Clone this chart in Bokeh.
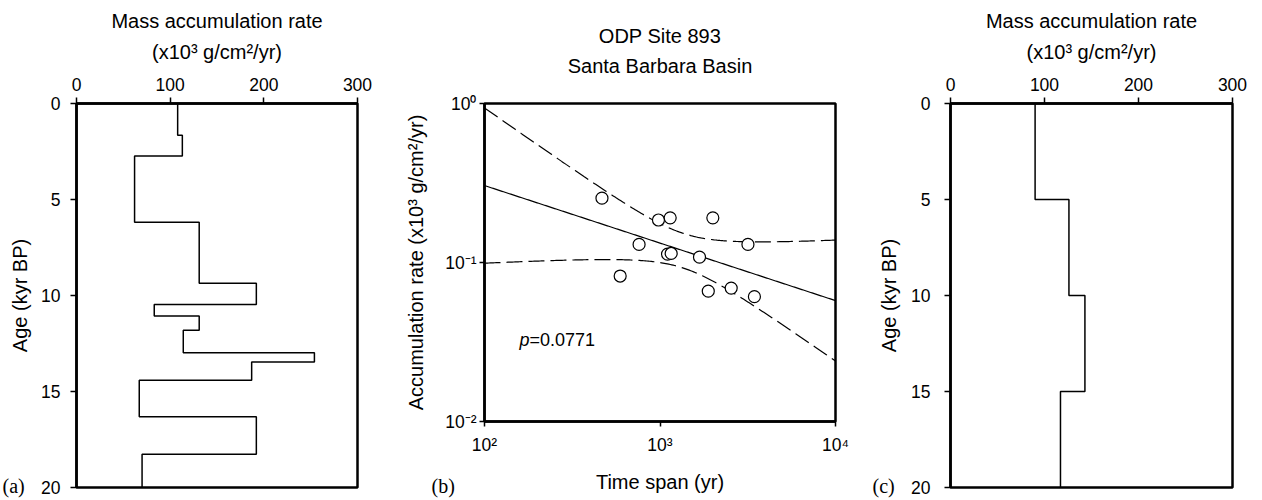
import numpy as np
from bokeh.plotting import figure
from bokeh.layouts import row
from bokeh.models import Range1d, FixedTicker, Title, Label, LogAxis
from bokeh.embed import file_html
from bokeh.resources import INLINE

# ---------------- data ----------------
# Panel (a): age interval boundaries (kyr BP) and mass accumulation rate (x10^3 g/cm2/yr)
age_bounds_a = [0, 1.66, 2.74, 6.18, 9.36, 10.47, 11.07, 11.81, 12.98, 13.46, 14.42, 16.31, 18.27, 20]
mar_a = [108, 113, 62, 131, 192, 83, 131, 114, 254, 187, 67, 192, 70]

# Panel (c)
age_bounds_c = [0, 5, 10, 15, 20]
mar_c = [90, 126, 143, 117]

# Panel (b): ODP Site 893, time span (yr) vs accumulation rate
time_span = [467, 980, 1143, 2000, 760, 3170, 1104, 1158, 1679, 593, 1884, 2545, 3451]
acc_rate = [0.254, 0.185, 0.191, 0.191, 0.130, 0.130, 0.113, 0.114, 0.108, 0.0822, 0.066, 0.069, 0.061]
p_text = "=0.0771"

rate_ticks = [0, 100, 200, 300]
age_ticks = [0, 5, 10, 15, 20]
span_ticks = [100, 1000, 10000]
span_labels = ["10\u00b2", "10\u00b3", "10\u2074"]
acc_ticks = [0.01, 0.1, 1]
acc_labels = ["10\u207b\u00b2", "10\u207b\u00b9", "10\u2070"]

FONT = "Liberation Sans"
TICK_SIZE = "17.5px"
LAB_SIZE = "20px"
H = 498


def step_path(bounds, vals):
    xs, ys = [], []
    for i, v in enumerate(vals):
        xs += [v, v]
        ys += [bounds[i], bounds[i + 1]]
    return xs, ys


def style_common(p):
    p.frame_align = False
    p.background_fill_color = "white"
    p.border_fill_color = "white"
    p.outline_line_color = "black"
    p.outline_line_width = 2.5
    p.outline_line_alpha = 1.0
    p.xgrid.grid_line_color = None
    p.ygrid.grid_line_color = None
    for ax in list(p.xaxis) + list(p.yaxis):
        ax.axis_line_width = 2.5
        ax.axis_line_color = "black"
        ax.major_tick_line_width = 1.5
        ax.major_tick_line_color = "black"
        ax.major_tick_in = 0
        ax.minor_tick_line_color = None
        ax.major_label_text_font = FONT
        ax.major_label_text_font_size = TICK_SIZE
        ax.major_label_text_color = "black"
        ax.axis_label_text_font = FONT
        ax.axis_label_text_font_size = LAB_SIZE
        ax.axis_label_text_font_style = "normal"
        ax.axis_label_text_color = "black"


def letter_label(x, y, dx, dy, text):
    return Label(x=x, y=y, x_offset=dx, y_offset=dy, text=text, text_align="left",
                 text_baseline="middle", text_font="Liberation Serif",
                 text_font_size="20px", text_color="black")


def depth_panel(bounds, vals, width, border_left, border_right, ylab_standoff, tick_standoff, letter):
    p = figure(width=width, height=H, output_backend="svg", toolbar_location=None,
               x_axis_location="above", x_range=Range1d(0, 300), y_range=Range1d(20, 0),
               min_border_left=border_left, min_border_right=border_right,
               min_border_top=103, min_border_bottom=11)
    style_common(p)
    xs, ys = step_path(bounds, vals)
    p.line(xs, ys, line_color="black", line_width=1.5)
    p.xaxis.ticker = FixedTicker(ticks=rate_ticks, minor_ticks=[])
    p.yaxis.ticker = FixedTicker(ticks=age_ticks, minor_ticks=[])
    p.xaxis.major_tick_out = 6
    p.yaxis.major_tick_out = 6
    p.xaxis.major_label_standoff = 7
    p.yaxis.major_label_standoff = tick_standoff
    p.xaxis.axis_label = "(x10\u00b3 g/cm\u00b2/yr)"
    p.xaxis.axis_label_standoff = 12
    p.yaxis.axis_label = "Age (kyr BP)"
    p.yaxis.axis_label_standoff = ylab_standoff
    p.add_layout(Title(text="Mass accumulation rate", align="center", text_font=FONT,
                       text_font_size=LAB_SIZE, text_font_style="normal", text_color="black",
                       standoff=12), "above")
    # letter placed in the empty right border panel so it is not clipped to the frame
    p.add_layout(letter_label(0, 20, -border_left + 2, 2, letter), "right")
    return p


pa = depth_panel(age_bounds_a, mar_a, 400, 76, 43, 7, 10, "(a)")
pc = depth_panel(age_bounds_c, mar_c, 392, 80, 30, 8, 14, "(c)")

# ---------------- panel (b) ----------------
pb = figure(width=470, height=H, output_backend="svg", toolbar_location=None,
            x_axis_type="log", y_axis_type="log",
            x_range=Range1d(100, 10000), y_range=Range1d(0.01, 1),
            min_border_left=84, min_border_right=35, min_border_top=103, min_border_bottom=77)
style_common(pb)
pb.xaxis.ticker = FixedTicker(ticks=span_ticks, minor_ticks=[])
pb.yaxis.ticker = FixedTicker(ticks=acc_ticks, minor_ticks=[])
pb.xaxis.major_label_overrides = {t: l for t, l in zip(span_ticks, span_labels)}
pb.yaxis.major_label_overrides = {t: l for t, l in zip(acc_ticks, acc_labels)}
pb.xaxis.major_tick_out = 5
pb.yaxis.major_tick_out = 5
pb.xaxis.major_label_standoff = 8
pb.yaxis.major_label_standoff = 3
pb.xaxis.axis_label = "Time span (yr)"
pb.xaxis.axis_label_standoff = 13
pb.yaxis.axis_label = "Accumulation rate (x10\u00b3 g/cm\u00b2/yr)"
pb.yaxis.axis_label_standoff = 15

# log-log regression with 95% confidence band of the mean
lx = np.log10(np.array(time_span, dtype=float))
ly = np.log10(np.array(acc_rate, dtype=float))
n = len(lx)
slope, intercept = np.polyfit(lx, ly, 1)
resid = ly - (intercept + slope * lx)
s = np.sqrt(np.sum(resid ** 2) / (n - 2))
sxx = np.sum((lx - lx.mean()) ** 2)
t_crit = 2.201  # Student t, 0.975, df = 11
gx = np.linspace(2, 4, 241)
gy = intercept + slope * gx
half = t_crit * s * np.sqrt(1.0 / n + (gx - lx.mean()) ** 2 / sxx)

pb.line(10 ** gx, 10 ** gy, line_color="black", line_width=1.2)
pb.line(10 ** gx, 10 ** (gy + half), line_color="black", line_width=1.2, line_dash="16 6")
pb.line(10 ** gx, 10 ** (gy - half), line_color="black", line_width=1.2, line_dash="16 6")
pb.scatter(time_span, acc_rate, size=12, marker="circle", fill_color="white",
           line_color="black", line_width=1.2)

pb.add_layout(Label(x=100, y=0.01, x_offset=35, y_offset=82, text="p", text_font=FONT,
                    text_font_style="italic", text_font_size="18px", text_baseline="middle",
                    text_align="left", text_color="black"))
pb.add_layout(Label(x=100, y=0.01, x_offset=45, y_offset=82, text=p_text, text_font=FONT,
                    text_font_size="18px", text_baseline="middle", text_align="left",
                    text_color="black"))
pb.add_layout(letter_label(100, 0.01, -53, -64, "(b)"), "right")

# top titles: second line as the label of a tick-less top axis, first line as a Title
top_ax = LogAxis(ticker=FixedTicker(ticks=[], minor_ticks=[]), axis_label="Santa Barbara Basin",
                 axis_line_color=None, major_tick_out=0, major_tick_in=0,
                 major_label_standoff=0, axis_label_standoff=27,
                 axis_label_text_font=FONT, axis_label_text_font_size=LAB_SIZE,
                 axis_label_text_font_style="normal", axis_label_text_color="black",
                 minor_tick_line_color=None, major_tick_line_color=None)
pb.add_layout(top_ax, "above")
pb.add_layout(Title(text="ODP Site 893", align="center", text_font=FONT,
                    text_font_size=LAB_SIZE, text_font_style="normal", text_color="black",
                    standoff=10), "above")

layout = row(pa, pb, pc)
open("out.html", "w").write(file_html(layout, INLINE))
